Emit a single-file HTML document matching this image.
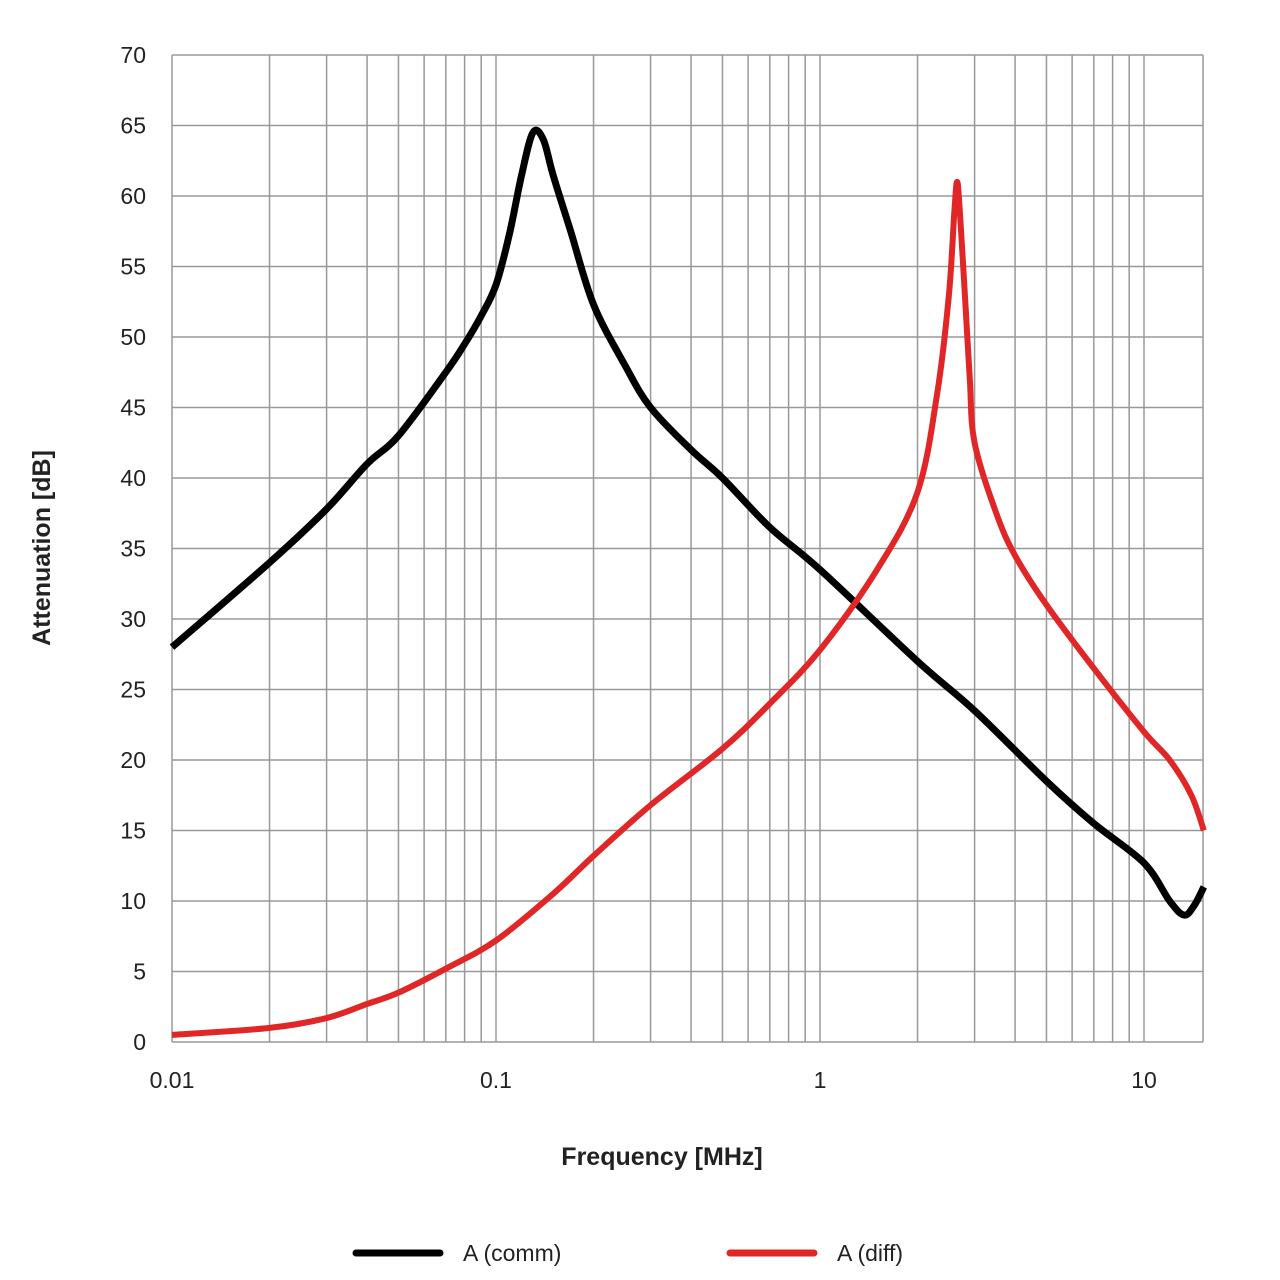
<!DOCTYPE html>
<html><head><meta charset="utf-8"><style>
html,body{margin:0;padding:0;background:#fff;}
svg{display:block;font-family:"Liberation Sans",Arial,sans-serif;}
</style></head><body>
<svg id="s" width="1280" height="1280" xmlns="http://www.w3.org/2000/svg"></svg>
<script>
const s=document.getElementById('s');
const X=f=>172+324*Math.log10(f/0.01);
const Y=d=>1042-d*(987/70);
let h='';
for(let i=0;i<=14;i++){const y=Y(i*5);h+=`<line x1="172" x2="1203" y1="${y}" y2="${y}" stroke="#999" stroke-width="1.5"/>`;
h+=`<text x="146" y="${y+8}" text-anchor="end" font-size="23" fill="#222">${i*5}</text>`;}
for(let d=0.01;d<20;d*=10){for(let m=1;m<10;m++){const f=d*m;if(f>15.3)break;const x=X(f);
h+=`<line x1="${x}" x2="${x}" y1="55" y2="1042" stroke="#999" stroke-width="1.5"/>`;}}
h+=`<line x1="1203" x2="1203" y1="55" y2="1042" stroke="#999" stroke-width="1.5"/>`;
[[0.01,'0.01'],[0.1,'0.1'],[1,'1'],[10,'10']].forEach(([f,t])=>{h+=`<text x="${X(f)}" y="1088" text-anchor="middle" font-size="23" fill="#222">${t}</text>`;});
function path(pts){const p=pts.map(([f,d])=>[X(f),Y(d)]);let o=`M${p[0][0]},${p[0][1]}`;
for(let i=0;i<p.length-1;i++){const a=p[i-1]||p[i],b=p[i],c=p[i+1],e=p[i+2]||c;
o+=` C${b[0]+(c[0]-a[0])/6},${b[1]+(c[1]-a[1])/6} ${c[0]-(e[0]-b[0])/6},${c[1]-(e[1]-b[1])/6} ${c[0]},${c[1]}`;}return o;}
const blk=[[0.01,28],[0.02,34],[0.03,37.8],[0.04,41],[0.05,43],[0.07,47.5],[0.08,49.5],[0.09,51.5],[0.1,53.7],[0.11,57.3],[0.12,61.5],[0.13,64.5],[0.14,64],[0.15,61.5],[0.17,57.5],[0.2,52.3],[0.25,48],[0.3,45],[0.4,42],[0.5,40],[0.7,36.5],[1,33.5],[2,27],[3,23.5],[5,18.5],[7,15.5],[10,12.7],[12,10],[13.3,9],[14.3,9.7],[15.3,11]];
const red=[[0.01,0.5],[0.02,1],[0.03,1.7],[0.04,2.7],[0.05,3.5],[0.07,5.2],[0.1,7.2],[0.15,10.5],[0.2,13.2],[0.3,16.8],[0.5,20.8],[0.7,24],[1,27.8],[1.5,33.5],[2,39],[2.3,46],[2.5,53],[2.6,59],[2.65,61],[2.7,59],[2.8,53],[2.9,47],[3,42.5],[3.5,37.5],[4,34.5],[5,31],[7,26.5],[10,22],[12,20],[14,17.5],[15.3,15]];
h+=`<path d="${path(blk)}" fill="none" stroke="#000" stroke-width="7" stroke-linejoin="round"/>`;
h+=`<path d="${path(red)}" fill="none" stroke="#e02626" stroke-width="6" stroke-linejoin="round"/>`;
h+=`<text x="662" y="1165" text-anchor="middle" font-size="25" font-weight="bold" fill="#222">Frequency [MHz]</text>`;
h+=`<text transform="translate(50,548) rotate(-90)" text-anchor="middle" font-size="25" font-weight="bold" fill="#222">Attenuation [dB]</text>`;
h+=`<line x1="356" x2="440" y1="1253" y2="1253" stroke="#000" stroke-width="7" stroke-linecap="round"/>`;
h+=`<text x="463" y="1261" font-size="23" fill="#222">A (comm)</text>`;
h+=`<line x1="730" x2="814" y1="1253" y2="1253" stroke="#e02626" stroke-width="7" stroke-linecap="round"/>`;
h+=`<text x="837" y="1261" font-size="23" fill="#222">A (diff)</text>`;
s.innerHTML=h;
</script>
</body></html>
